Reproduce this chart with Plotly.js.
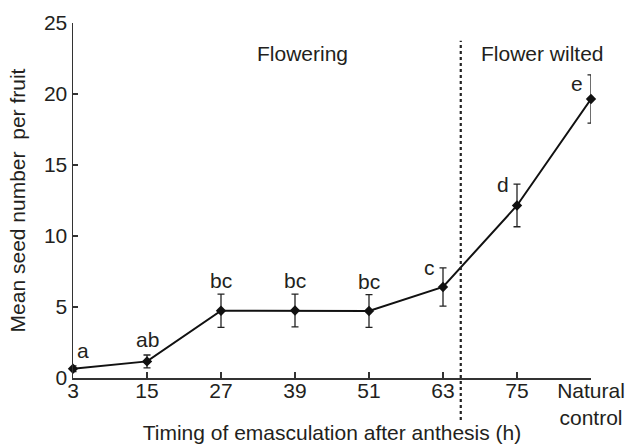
<!DOCTYPE html>
<html>
<head>
<meta charset="utf-8">
<script src="https://cdn.plot.ly/plotly-3.0.1.min.js"></script>
<style>html,body{margin:0;padding:0;background:#fff;}#chart{width:634px;height:444px;}</style>
</head>
<body>
<div id="chart"></div>
<script>
// Data
const categories = ['3', '15', '27', '39', '51', '63', '75', 'Natural<br>control'];
const meanSeeds = [0.65, 1.17, 4.74, 4.75, 4.72, 6.41, 12.15, 19.65];
const seErrors = [0.2, 0.45, 1.17, 1.15, 1.15, 1.35, 1.5, 1.7];
const groupLetters = ['a', 'ab', 'bc', 'bc', 'bc', 'c', 'd', 'e'];
const phaseLabels = ['Flowering', 'Flower wilted'];
const dividerPosition = 5.24; // between "63" and "75" (category index units)

const FONT = 'Liberation Sans, Arial, Helvetica, sans-serif';
const TXT = '#231f20';
const FS = 21;

const trace = {
  type: 'scatter',
  mode: 'lines+markers',
  x: categories,
  y: meanSeeds,
  cliponaxis: false,
  line: {color: '#111', width: 2},
  marker: {symbol: 'diamond', size: 8, color: '#111'},
  error_y: {type: 'data', array: seErrors, visible: true, color: '#222', thickness: 1.3, width: 3.5},
  hoverinfo: 'skip'
};

const annotations = groupLetters.map((t, i) => {
  const base = {
    x: i, y: meanSeeds[i] + seErrors[i], xref: 'x', yref: 'y',
    text: t, showarrow: false, font: {family: FONT, size: FS, color: TXT}
  };
  if (i < 5) {
    return Object.assign(base, {xanchor: 'center', yanchor: 'bottom', xshift: i === 0 ? 10 : 0, yshift: i === 0 ? 2 : (i === 1 ? 2 : 0)});
  }
  return Object.assign(base, {xanchor: 'right', yanchor: 'middle', xshift: -6, yshift: i === 7 ? -9 : 0});
});

annotations.push({
  x: 0.444, y: 0.915, xref: 'paper', yref: 'paper', text: phaseLabels[0], showarrow: false,
  xanchor: 'center', yanchor: 'middle', font: {family: FONT, size: FS, color: TXT}
});
annotations.push({
  x: 0.907, y: 0.915, xref: 'paper', yref: 'paper', text: phaseLabels[1], showarrow: false,
  xanchor: 'center', yanchor: 'middle', font: {family: FONT, size: FS, color: TXT}
});

const layout = {
  width: 634, height: 444,
  margin: {l: 73, r: 43, t: 23, b: 66},
  paper_bgcolor: '#fff', plot_bgcolor: '#fff',
  font: {family: FONT, size: FS, color: TXT},
  showlegend: false,
  xaxis: {
    type: 'category', range: [0, 7], showgrid: false, zeroline: false,
    showline: true, linecolor: '#333', linewidth: 1.5,
    ticks: 'inside', ticklen: 6, tickwidth: 1.2, tickcolor: '#333',
    ticklabelstandoff: -7,
    tickfont: {family: FONT, size: FS, color: TXT},
    title: {text: 'Timing of emasculation after anthesis (h)', font: {family: FONT, size: FS, color: TXT}, standoff: 2}
  },
  yaxis: {
    range: [0, 25], tickvals: [0, 5, 10, 15, 20, 25], showgrid: false, zeroline: false,
    showline: true, linecolor: '#333', linewidth: 1.5,
    ticks: 'inside', ticklen: 5, tickwidth: 1.2, tickcolor: '#333',
    tickfont: {family: FONT, size: FS, color: TXT},
    title: {text: 'Mean seed number\u00a0\u00a0per fruit', font: {family: FONT, size: FS, color: TXT}, standoff: 12}
  },
  shapes: [{
    type: 'line', xref: 'x', yref: 'paper', x0: dividerPosition, x1: dividerPosition,
    y0: -0.118, y1: 0.95, line: {color: '#222', width: 2.2, dash: 'dot'}
  }],
  annotations: annotations
};

Plotly.newPlot('chart', [trace], layout, {displayModeBar: false, staticPlot: true});
</script>
</body>
</html>
